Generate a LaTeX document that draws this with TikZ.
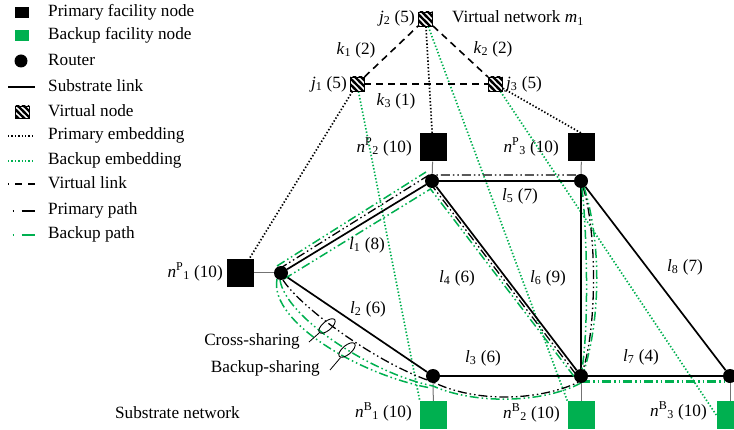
\documentclass[tikz,border=0pt]{standalone}
\usepackage{fontspec}
\setmainfont{Liberation Serif}
\usetikzlibrary{patterns,calc,backgrounds,shapes.geometric}

\definecolor{bkgreen}{RGB}{0,176,80}

% thick diagonal stripes for virtual nodes
\pgfdeclarepatternformonly{vstripes}{\pgfqpoint{-2pt}{-2pt}}{\pgfqpoint{8pt}{8pt}}{\pgfqpoint{6pt}{6pt}}{%
  \pgfsetlinewidth{2.2pt}%
  \pgfpathmoveto{\pgfqpoint{-2pt}{8pt}}%
  \pgfpathlineto{\pgfqpoint{8pt}{-2pt}}%
  \pgfusepath{stroke}}

\newcommand{\vlab}[3]{\textit{#1}\textsubscript{#2} (#3)}
\newcommand{\flab}[3]{\textit{n}\textsuperscript{#1}\textsubscript{#2} (#3)}

\begin{document}
\begin{tikzpicture}[x=1pt,y=-1pt,
  every node/.style={font=\fontsize{17.2}{20}\selectfont},
  txt/.style={inner sep=0pt},
  router/.style={circle,fill=black,minimum size=14pt,inner sep=0pt},
  pfac/.style={rectangle,fill=black,minimum width=27pt,minimum height=28pt,inner sep=0pt},
  bfac/.style={pfac,fill=bkgreen},
  vnode/.style={rectangle,draw=black,line width=0.9pt,preaction={fill=white},pattern=vstripes,minimum width=14pt,minimum height=14pt,inner sep=0pt},
  sublink/.style={line width=1.7pt},
  attach/.style={line width=1pt,black!55},
  vlinkline/.style={line width=1.6pt,dash pattern=on 7pt off 5pt},
  pemb/.style={line width=1.7pt,dash pattern=on 1.4pt off 2pt},
  bemb/.style={pemb,draw=bkgreen},
  ppath/.style={line width=1.3pt,dash pattern=on 9pt off 3pt on 1.5pt off 3pt on 1.5pt off 3pt},
  bpath/.style={ppath,draw=bkgreen,line width=1.5pt},
  shareloop/.style={ellipse,draw,line width=0.9pt,minimum width=20pt,minimum height=9pt,inner sep=0pt,rotate=40}
]
\useasboundingbox (0,0) rectangle (734,430);
\clip (0,0) rectangle (734,430);

% ---------- legend ----------
\node[pfac,minimum width=14pt,minimum height=11pt] (lgP) at (22,12.5) {};
\node[txt,anchor=west] at (48,12) {Primary facility node};
\node[bfac,minimum width=14pt,minimum height=11pt] (lgB) at (22,36) {};
\node[txt,anchor=west] at (48,35) {Backup facility node};
\node[router,minimum size=13pt] (lgR) at (21,61) {};
\node[txt,anchor=west] at (48,60) {Router};
\draw[sublink] (8,87) -- (35,87);
\node[txt,anchor=west] at (48,86) {Substrate link};
\node[vnode,minimum height=12pt] (lgV) at (22,112) {};
\node[txt,anchor=west] at (48,111) {Virtual node};
\draw[pemb] (8,136) -- (35,136);
\node[txt,anchor=west] at (48,135) {Primary embedding};
\draw[bemb] (8,161) -- (35,161);
\node[txt,anchor=west] at (48,160) {Backup embedding};
\draw[vlinkline,dash pattern=on 7pt off 6pt,dash phase=6pt] (8,184) -- (35,184);
\node[txt,anchor=west] at (48,183) {Virtual link};
\draw[line width=1.6pt,dash pattern=on 1.5pt off 7.5pt on 13pt] (12.5,211) -- (35,211);
\node[txt,anchor=west] at (48,210) {Primary path};
\draw[line width=1.6pt,bkgreen,dash pattern=on 1.5pt off 7.5pt on 13pt] (12.5,235) -- (35,235);
\node[txt,anchor=west] at (48,234) {Backup path};

% ---------- substrate network ----------
\node[router] (R1) at (281,273) {};
\node[router] (R2) at (432,181) {};
\node[router] (R3) at (581,181) {};
\node[router] (R4) at (433,376) {};
\node[router] (R5) at (581,376) {};
\node[router] (R6) at (730,376) {};
\node[pfac] (P1) at (240.5,273) {};
\node[pfac] (P2) at (433,147.5) {};
\node[pfac] (P3) at (581.5,147.5) {};
\node[bfac] (B1) at (433.5,415) {};
\node[bfac] (B2) at (581,415) {};
\node[bfac] (B3) at (730,415) {};

% ---------- virtual network ----------
\node[vnode] (j1) at (357,84) {};
\node[vnode] (j2) at (425.5,19) {};
\node[vnode] (j3) at (495.5,84) {};

% ---------- labels ----------
\node[txt,anchor=east] at (415,18) {\vlab{j}{2}{5}};
\node[txt,anchor=west] at (452,18) {Virtual network \textit{m}\textsubscript{1}};
\node[txt] at (356,50) {\vlab{k}{1}{2}};
\node[txt] at (493,49) {\vlab{k}{2}{2}};
\node[txt,anchor=east] at (347,84) {\vlab{j}{1}{5}};
\node[txt,anchor=west] at (506,84) {\vlab{j}{3}{5}};
\node[txt] at (396,101) {\vlab{k}{3}{1}};
\node[txt,anchor=east] at (412,147) {\flab{P}{2}{10}};
\node[txt,anchor=east] at (559,147) {\flab{P}{3}{10}};
\node[txt,anchor=east] at (223,272) {\flab{P}{1}{10}};
\node[txt] at (367,245) {\vlab{l}{1}{8}};
\node[txt] at (520,196) {\vlab{l}{5}{7}};
\node[txt] at (457,278) {\vlab{l}{4}{6}};
\node[txt] at (548,278) {\vlab{l}{6}{9}};
\node[txt] at (685,267) {\vlab{l}{8}{7}};
\node[txt] at (368,309) {\vlab{l}{2}{6}};
\node[txt] at (483,358) {\vlab{l}{3}{6}};
\node[txt] at (641,357) {\vlab{l}{7}{4}};
\node[txt,anchor=east] (cst) at (300,341) {Cross-sharing};
\node[txt,anchor=east] (bst) at (320,368) {Backup-sharing};
\node[txt,anchor=east] at (240,413) {Substrate network};
\node[txt,anchor=east] at (412,412) {\flab{B}{1}{10}};
\node[txt,anchor=east] at (560,413) {\flab{B}{2}{10}};
\node[txt,anchor=east] at (707,411) {\flab{B}{3}{10}};

% sharing markers on l2
\node[shareloop] (cs) at (327,326) {};
\node[shareloop] (bs) at (347,350) {};
\draw[line width=0.8pt] ($(cst.east)+(9,1)$) -- (cs);
\draw[line width=0.8pt] ($(bst.east)+(10,2)$) -- (bs);

\begin{scope}[on background layer]
  % embeddings
  \draw[pemb] (j1) -- (P1);
  \draw[pemb] (j2) -- (P2);
  \draw[pemb] (j3) -- (P3.north);
  \draw[bemb] (j1) -- (B1.north west);
  \draw[bemb] (j2) -- (B2.north west);
  \draw[bemb] (j3) -- (B3.west);
  % virtual links
  \draw[vlinkline] (j1) -- (j2);
  \draw[vlinkline] (j2) -- (j3);
  \draw[vlinkline] (j1) -- (j3);
  % facility attachments
  \draw[attach] (P1) -- (R1);
  \draw[attach] (P2) -- (R2);
  \draw[attach] (P3) -- (R3);
  \draw[attach] (B1) -- (R4);
  \draw[attach] (B2) -- (R5);
  \draw[attach] (B3) -- (R6);
  % substrate links
  \draw[sublink] (R1) -- (R2);
  \draw[sublink] (R1) -- (R4);
  \draw[sublink] (R2) -- (R3);
  \draw[sublink] (R2) -- (R5);
  \draw[sublink] (R3) -- (R5);
  \draw[sublink] (R3) -- (R6);
  \draw[sublink] (R4) -- (R5);
  \draw[sublink] (R5) -- (R6);

  % primary paths
  \draw[ppath] ($(R1)+(-2,-4)$) -- ($(R2)+(-3,-6)$) -- ($(R3)+(0,-6)$);
  \draw[ppath] ($(R2)+(-2,2)$) -- ($(R5)+(-3,1)$);
  \draw[ppath] ($(R1)+(2,7)$) .. controls ($(R1)+(20,35)$) and ($(R4)+(-55,-12)$) .. ($(R4)+(0,6)$)
               .. controls ($(R4)+(40,26)$) and ($(R5)+(-45,26)$) .. ($(R5)+(-2,6)$);
  \draw[ppath] ($(R3)+(2,6)$) .. controls ($(R3)+(16,50)$) and ($(R5)+(16,-50)$) .. ($(R5)+(2,-6)$);

  % backup paths
  \draw[bpath] ($(R1)+(-4,-7)$) -- ($(R2)+(-6,-9)$);
  \draw[bpath] ($(R1)+(3,6)$) -- ($(R2)+(-1.5,8)$) -- ($(R5)+(-5,3)$);
  \draw[bpath] ($(R1)+(-1,7)$) .. controls ($(R1)+(5,45)$) and ($(R4)+(-60,-2)$) .. ($(R4)+(0,10)$)
               .. controls ($(R4)+(40,28)$) and ($(R5)+(-40,28)$) .. ($(R5)+(0,7)$);
  \draw[bpath] ($(R1)+(-4,6)$) .. controls ($(R1)+(-12,50)$) and ($(R4)+(-70,0)$) .. ($(R4)+(-2,12)$);
  \draw[bpath] ($(R3)+(1,7)$) .. controls ($(R3)+(6,50)$) and ($(R5)+(8,-50)$) .. ($(R5)+(1,-7)$);
  \draw[bpath] ($(R3)+(3,6)$) .. controls ($(R3)+(20,60)$) and ($(R5)+(20,-60)$) .. ($(R5)+(3,-5)$);
  \draw[bpath,line width=3pt] ($(R5)+(0,6)$) -- ($(R6)+(0,6)$);
\end{scope}
\end{tikzpicture}
\end{document}
